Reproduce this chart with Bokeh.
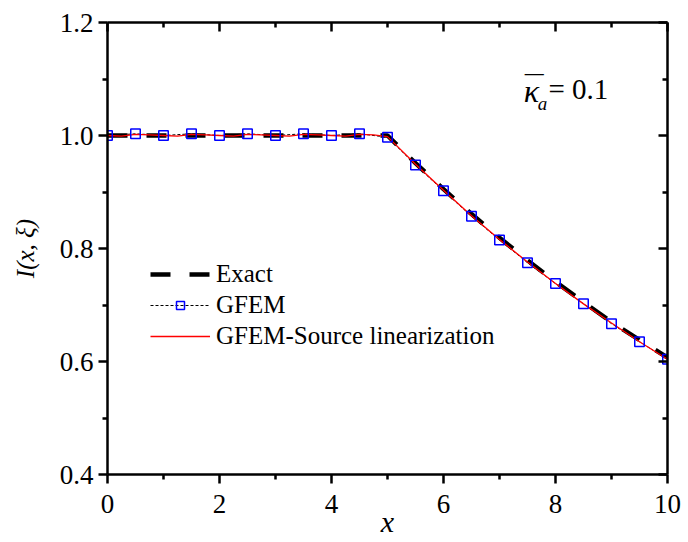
from bokeh.plotting import figure
from bokeh.models import (Range1d, FixedTicker, LinearAxis, Legend, LegendItem,
                          Label, PrintfTickFormatter)
from bokeh.embed import file_html
from bokeh.resources import INLINE

# GFEM nodal solution
x_nodes = [0.0, 0.5, 1.0, 1.5, 2.0, 2.5, 3.0, 3.5, 4.0, 4.5, 5.0,
           5.5, 6.0, 6.5, 7.0, 7.5, 8.0, 8.5, 9.0, 9.5, 10.0]
gfem_y = [1.000, 1.003, 1.000, 1.003, 1.000, 1.003, 1.000, 1.003, 1.000, 1.003,
          0.997, 0.948, 0.902, 0.857, 0.815, 0.775, 0.738, 0.702, 0.667, 0.635, 0.604]

# exact intensity
exact_x = [0.0, 5.0, 5.5, 6.0, 6.5, 7.0, 7.5, 8.0, 8.5, 9.0, 9.5, 10.0]
exact_y = [1.000, 1.000, 0.951, 0.905, 0.861, 0.819, 0.779, 0.741, 0.705, 0.670, 0.638, 0.607]

# GFEM with source linearization
red_x = [0.0, 0.25, 0.5, 0.75, 1.0, 1.25, 1.5, 1.75, 2.0, 2.25, 2.5, 2.75, 3.0,
         3.25, 3.5, 3.75, 4.0, 4.25, 4.5, 4.75, 5.0,
         5.5, 6.0, 6.5, 7.0, 7.5, 8.0, 8.5, 9.0, 9.5, 10.0]
red_y = [1.000, 0.999, 1.002, 1.001, 1.000, 0.999, 1.002, 1.001, 1.000, 0.999, 1.002, 1.001, 1.000,
         0.999, 1.002, 1.001, 1.000, 0.999, 1.002, 1.001, 0.998,
         0.949, 0.903, 0.858, 0.816, 0.776, 0.738, 0.702, 0.668, 0.635, 0.604]

x_ticks = [0, 2, 4, 6, 8, 10]
x_minor = [1, 3, 5, 7, 9]
y_ticks = [0.4, 0.6, 0.8, 1.0, 1.2]
y_minor = [0.5, 0.7, 0.9, 1.1]

FONT = "Liberation Serif"

p = figure(width=688, height=542, output_backend="svg", toolbar_location=None,
           x_range=Range1d(0, 10), y_range=Range1d(0.4, 1.2),
           min_border_left=107, min_border_right=21, min_border_top=22,
           min_border_bottom=68)
p.background_fill_color = "white"
p.border_fill_color = "white"
p.outline_line_color = None
p.xgrid.visible = False
p.ygrid.visible = False


def style_axis(ax, ticks, minor, outside, labels):
    ax.ticker = FixedTicker(ticks=ticks, minor_ticks=minor)
    ax.axis_line_width = 2.5
    ax.axis_line_color = "black"
    ax.major_tick_line_width = 2.5
    ax.minor_tick_line_width = 2.5
    ax.major_tick_line_color = "black"
    ax.minor_tick_line_color = "black"
    if outside:
        ax.major_tick_out, ax.major_tick_in = 9, 0
        ax.minor_tick_out, ax.minor_tick_in = 5, 0
    else:
        ax.major_tick_out, ax.major_tick_in = 0, 9
        ax.minor_tick_out, ax.minor_tick_in = 0, 5
    if labels:
        ax.major_label_text_font = FONT
        ax.major_label_text_font_size = "27px"
        ax.major_label_text_color = "black"
        ax.major_label_standoff = 5
    else:
        ax.major_label_text_font_size = "0px"
        ax.major_label_text_alpha = 0


style_axis(p.xaxis[0], x_ticks, x_minor, True, True)
style_axis(p.yaxis[0], y_ticks, y_minor, True, True)
p.xaxis[0].major_label_standoff = 11
p.yaxis[0].formatter = PrintfTickFormatter(format="%.1f")

p.yaxis[0].axis_label = "I(x, ξ)"
p.yaxis[0].axis_label_text_font = FONT
p.yaxis[0].axis_label_text_font_style = "italic"
p.yaxis[0].axis_label_text_font_size = "25px"
p.yaxis[0].axis_label_text_color = "black"
p.yaxis[0].axis_label_standoff = 18

p.xaxis[0].axis_label = "x"
p.xaxis[0].axis_label_text_font = FONT
p.xaxis[0].axis_label_text_font_style = "italic"
p.xaxis[0].axis_label_text_font_size = "30px"
p.xaxis[0].axis_label_text_color = "black"
p.xaxis[0].axis_label_standoff = -11

top_ax = LinearAxis()
right_ax = LinearAxis()
style_axis(top_ax, x_ticks, x_minor, False, False)
style_axis(right_ax, y_ticks, y_minor, False, False)
p.add_layout(top_ax, "above")
p.add_layout(right_ax, "right")

r_exact = p.line(exact_x, exact_y, line_color="black", line_width=4.5,
                 line_dash="20 19")
r_gfem_line = p.line(x_nodes, gfem_y, line_color="black", line_width=1,
                     line_dash="3 2")
r_red = p.line(red_x, red_y, line_color="#ff0000", line_width=1.3)
r_gfem_pts = p.scatter(x_nodes, gfem_y, marker="square", size=9.5,
                       line_color="#0000ff", line_width=1.5, fill_color=None)

legend = Legend(items=[
    LegendItem(label="Exact", renderers=[r_exact]),
    LegendItem(label="GFEM", renderers=[r_gfem_line, r_gfem_pts]),
    LegendItem(label="GFEM-Source linearization", renderers=[r_red]),
], location=(43, 124))
legend.border_line_color = None
legend.background_fill_alpha = 0
legend.label_text_font = FONT
legend.label_text_font_size = "25px"
legend.label_text_color = "black"
legend.glyph_width = 60
legend.glyph_height = 20
legend.label_height = 20
legend.label_standoff = 6
legend.spacing = 3
legend.padding = 0
legend.margin = 0
p.add_layout(legend)

# absorption coefficient annotation: kappa with an overbar and subscript a
p.add_layout(Label(x=7.57, y=1.079, text="κ", text_font=FONT,
                   text_font_style="italic", text_font_size="32px",
                   text_align="center", text_baseline="middle",
                   text_color="black"))
p.add_layout(Label(x=7.62, y=1.112, text="—", text_font=FONT,
                   text_font_style="bold", text_font_size="19px",
                   text_align="center", text_baseline="middle",
                   text_color="black"))
p.add_layout(Label(x=7.77, y=1.056, text="a", text_font=FONT,
                   text_font_style="italic", text_font_size="19px",
                   text_align="center", text_baseline="middle",
                   text_color="black"))
p.add_layout(Label(x=7.875, y=1.083, text="= 0.1", text_font=FONT,
                   text_font_size="29px", text_align="left",
                   text_baseline="middle", text_color="black"))

open("out.html", "w").write(file_html(p, INLINE))
